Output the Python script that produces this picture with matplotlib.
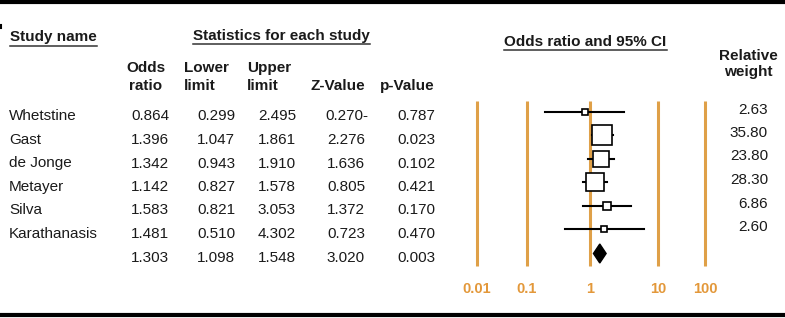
import numpy as np
import matplotlib
matplotlib.use('Agg')
import matplotlib.pyplot as plt

plt.rcParams['font.family'] = ['Liberation Sans', 'DejaVu Sans']

# Data
studies = ['Whetstine', 'Gast', 'de Jonge', 'Metayer', 'Silva', 'Karathanasis']
odds = [0.864, 1.396, 1.342, 1.142, 1.583, 1.481]
lower = [0.299, 1.047, 0.943, 0.827, 0.821, 0.510]
upper = [2.495, 1.861, 1.910, 1.578, 3.053, 4.302]
zval = ['0.270-', '2.276', '1.636', '0.805', '1.372', '0.723']
pval = [0.787, 0.023, 0.102, 0.421, 0.170, 0.470]
weights = [2.63, 35.80, 23.80, 28.30, 6.86, 2.60]

pooled = {'or': 1.303, 'lo': 1.098, 'hi': 1.548, 'z': '3.020', 'p': 0.003}

scale_labels = ['0.01', '0.1', '1', '10', '100']

# Layout (pixel units, figure is 785 x 318)
W, H = 785, 318
row0, drow = 120.5, 23.5
col_right = [169, 235, 296, 365, 435]
scale_px = [477, 527, 590, 658, 705]
orange = '#DFA048'
txt = '#1a1a1a'
fs = 11

fig = plt.figure(figsize=(W / 100, H / 100), dpi=100)
ax = fig.add_axes([0, 0, 1, 1])
ax.set_xlim(0, W)
ax.set_ylim(H, 0)
ax.axis('off')

# thick rules top and bottom
ax.axhline(2, color='black', lw=3)
ax.axhline(314.7, color='black', lw=3)
ax.plot([1, 1], [25, 28], color='black', lw=1.5)

# headers
heads = []
heads.append(ax.text(10, 41.5, 'Study name', fontsize=fs, fontweight='bold', color=txt))
heads.append(ax.text(281.5, 40, 'Statistics for each study', fontsize=fs, fontweight='bold',
                     color=txt, ha='center'))
heads.append(ax.text(585.5, 46, 'Odds ratio and 95% CI', fontsize=fs, fontweight='bold',
                     color=txt, ha='center'))
ax.text(748, 60, 'Relative', fontsize=fs, fontweight='bold', color=txt, ha='center')
ax.text(748, 76, 'weight', fontsize=fs, fontweight='bold', color=txt, ha='center')

ax.text(146, 72, 'Odds', fontsize=fs, fontweight='bold', color=txt, ha='center')
ax.text(146, 90, 'ratio', fontsize=fs, fontweight='bold', color=txt, ha='center')
ax.text(184, 72, 'Lower', fontsize=fs, fontweight='bold', color=txt)
ax.text(184, 90, 'limit', fontsize=fs, fontweight='bold', color=txt)
ax.text(247, 72, 'Upper', fontsize=fs, fontweight='bold', color=txt)
ax.text(247, 90, 'limit', fontsize=fs, fontweight='bold', color=txt)
ax.text(365, 90, 'Z-Value', fontsize=fs, fontweight='bold', color=txt, ha='right')
ax.text(435, 90, 'p-Value', fontsize=fs, fontweight='bold', color=txt, ha='right')

# table rows
for i, name in enumerate(studies):
    y = row0 + drow * i
    ax.text(9, y, name, fontsize=fs, color=txt)
    vals = ['%.3f' % odds[i], '%.3f' % lower[i], '%.3f' % upper[i], zval[i], '%.3f' % pval[i]]
    for xr, v in zip(col_right, vals):
        if v.endswith('-'):
            xr += 3  # trailing dash hangs past the column edge
        ax.text(xr, y, v, fontsize=fs, color=txt, ha='right')
    ax.text(768, y - 7, '%.2f' % weights[i], fontsize=fs, color=txt, ha='right')

y = row0 + drow * len(studies)
vals = ['%.3f' % pooled['or'], '%.3f' % pooled['lo'], '%.3f' % pooled['hi'], pooled['z'], '%.3f' % pooled['p']]
for xr, v in zip(col_right, vals):
    ax.text(xr, y, v, fontsize=fs, color=txt, ha='right')

# orange scale lines and labels
for xp, lab in zip(scale_px, scale_labels):
    ax.plot([xp, xp], [101, 266], color=orange, lw=2.2, solid_capstyle='butt', zorder=1)
    ax.text(xp, 293, lab, fontsize=10.5, fontweight='bold', color='#E3983A', ha='center')

# underlines under section headers
fig.canvas.draw()
r = fig.canvas.get_renderer()
inv = ax.transData.inverted()
for t, uy in zip(heads, [46, 43.5, 49.5]):
    bb = t.get_window_extent(r)
    x0, _ = inv.transform((bb.x0, 0))
    x1, _ = inv.transform((bb.x1, 0))
    ax.plot([x0, x1], [uy, uy], color='#333333', lw=1.1)

# forest plot on log scale: 1 at x=590 px, 85 px per decade
fx = fig.add_axes([440 / W, 0, 280 / W, 1])
fx.set_xscale('log')
fx.set_xlim(10 ** (-150 / 85), 10 ** (130 / 85))
fx.set_ylim(H, 0)
fx.axis('off')
fx.patch.set_alpha(0)

for i in range(len(studies)):
    ym = row0 + drow * i - 9
    fx.plot([lower[i], upper[i]], [ym, ym], color='black', lw=1.5, zorder=3)
    size = max(5, 3.2 * np.sqrt(weights[i])) * 0.72
    fx.plot(odds[i], ym, marker='s', ms=size, mfc='white', mec='black', mew=1.2, zorder=4)

yd = row0 + drow * len(studies) - 8
hd = 9.5
fx.fill([pooled['lo'], pooled['or'], pooled['hi'], pooled['or']],
        [yd, yd - hd, yd, yd + hd], color='black', zorder=4)

fig.savefig('out.png', dpi=100)
